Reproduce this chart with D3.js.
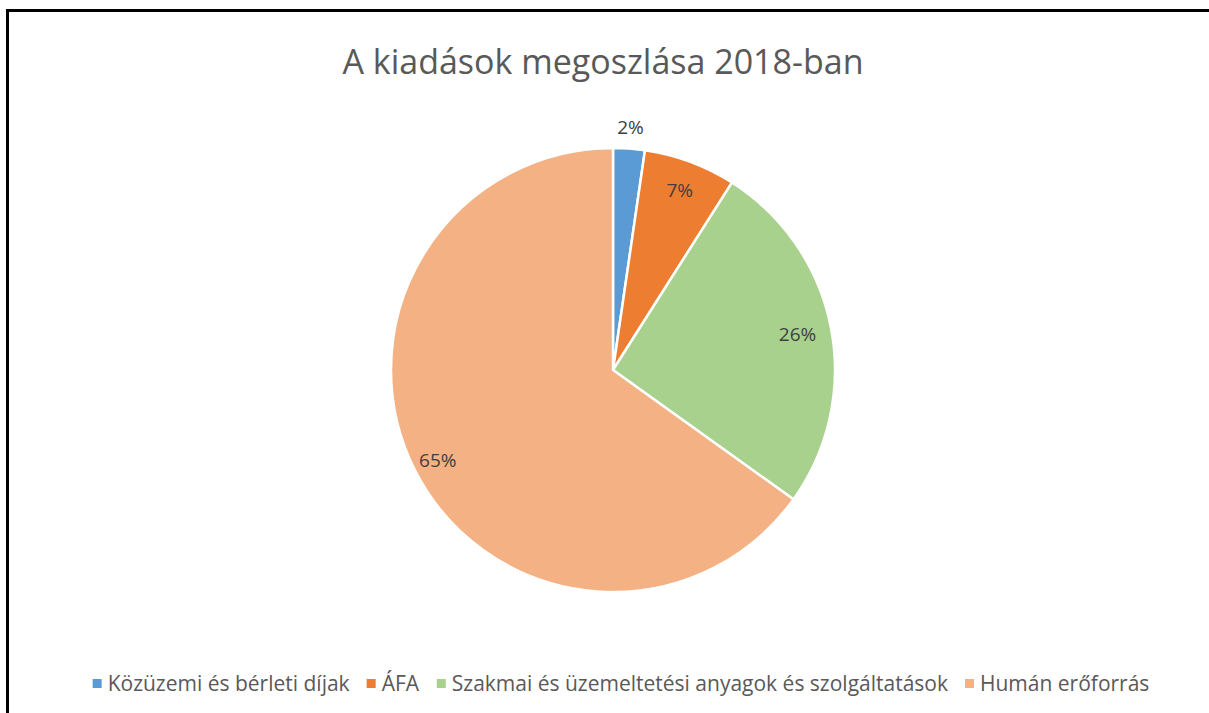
<!DOCTYPE html>
<html>
<head>
<meta charset="utf-8">
<script src="https://cdn.jsdelivr.net/npm/d3@7/dist/d3.min.js"></script>
<style>
    body { margin: 0; background: #fff; }
    #chart { width: 1209px; height: 713px; }
    text { font-family: "Open Sans", "Liberation Sans", sans-serif; }
</style>
</head>
<body>
<div id="chart"></div>
<script>
//data
var categories = ['Közüzemi és bérleti díjak', 'ÁFA', 'Szakmai és üzemeltetési anyagok és szolgáltatások', 'Humán erőforrás'];
var values = [2.3, 6.7, 25.9, 65.1];
var labels = ['2%', '7%', '26%', '65%'];
var colors = ['#5B9BD5', '#ED7D31', '#A9D18E', '#F4B183'];

//sizes
var outerW = 1209,
    outerH = 713,
    cx = 613,
    cy = 370,
    radius = 222;

var svg = d3.select('#chart').append('svg')
    .attr('width', outerW)
    .attr('height', outerH);

//frame (only top and left edge visible)
svg.append('path')
    .attr('d', 'M7.5,' + outerH + 'V10.5H' + outerW)
    .attr('fill', 'none')
    .attr('stroke', '#000')
    .attr('stroke-width', 3);

svg.append('text')
    .attr('x', 603)
    .attr('y', 74)
    .attr('text-anchor', 'middle')
    .attr('fill', '#595959')
    .attr('font-size', 34)
    .text('A kiadások megoszlása 2018-ban');

var pieData = d3.pie().sort(null)(values);

var arc = d3.arc().innerRadius(0).outerRadius(radius);

var pieG = svg.append('g')
    .attr('transform', 'translate(' + cx + ',' + cy + ')');

pieG.selectAll('.slice')
    .data(pieData)
    .enter()
    .append('path')
    .attr('class', 'slice')
    .attr('d', arc)
    .attr('fill', function(d, i) { return colors[i]; })
    .attr('stroke', '#fff')
    .attr('stroke-width', 2.5)
    .attr('stroke-linejoin', 'round');

// small slice label sits outside, others inside
var labelR = [243, 192, 188, 197];
pieG.selectAll('.slice-label')
    .data(pieData)
    .enter()
    .append('text')
    .attr('class', 'slice-label')
    .attr('x', function(d, i) { return Math.sin((d.startAngle + d.endAngle) / 2) * labelR[i]; })
    .attr('y', function(d, i) { return -Math.cos((d.startAngle + d.endAngle) / 2) * labelR[i]; })
    .attr('dy', '0.35em')
    .attr('text-anchor', 'middle')
    .attr('fill', '#404040')
    .attr('font-size', 19)
    .text(function(d, i) { return labels[i]; });

//legend
var legendG = svg.append('g').attr('class', 'legend');
var legendItems = legendG.selectAll('.legend-item')
    .data(categories)
    .enter()
    .append('g')
    .attr('class', 'legend-item');

legendItems.append('rect')
    .attr('width', 9)
    .attr('height', 9)
    .attr('y', -9)
    .attr('fill', function(d, i) { return colors[i]; });

legendItems.append('text')
    .attr('x', 15)
    .attr('y', 0)
    .attr('fill', '#595959')
    .attr('font-size', 21)
    .attr('dy', '0.15em')
    .text(function(d) { return d; });

var xPos = 0;
legendItems.each(function() {
    var w = this.getBBox().width;
    d3.select(this).attr('data-x', xPos);
    xPos += w + 17;
});
var totalW = xPos - 17;
var startX = 86 + (1156 - 86 - totalW) / 2;
legendItems.attr('transform', function() {
    return 'translate(' + (startX + +d3.select(this).attr('data-x')) + ',688)';
});
</script>
</body>
</html>
